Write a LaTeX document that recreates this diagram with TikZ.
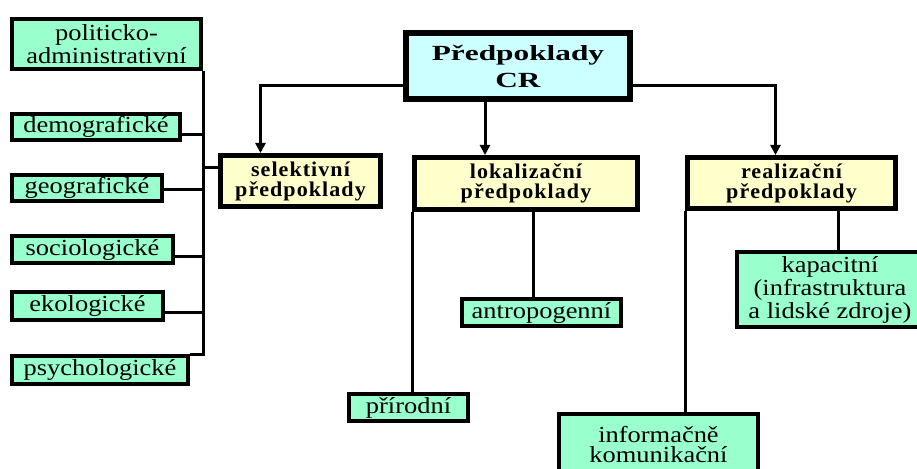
\documentclass[tikz,border=0pt]{standalone}
\usepackage{fontspec}
\setmainfont{Liberation Serif}
\newfontfamily\leaffont[FakeStretch=1.15]{Liberation Serif}
\newfontfamily\groupfont[FakeStretch=1.05,LetterSpace=5]{Liberation Serif}
\newfontfamily\rootfont[FakeStretch=1.45]{Liberation Serif}
\usetikzlibrary{arrows.meta}
\definecolor{leafgreen}{HTML}{99FFCC}
\definecolor{groupyellow}{HTML}{FFFFCC}
\definecolor{rootcyan}{HTML}{CCFFFF}
\tikzset{
    leaf/.style={draw, line width=2pt, fill=leafgreen, inner sep=0pt, align=center,
        font=\leaffont\fontsize{11.5}{11.5}\selectfont},
    group/.style={draw, line width=2.5pt, fill=groupyellow, inner sep=0pt, align=center,
        font=\groupfont\bfseries\fontsize{10.5}{10}\selectfont},
    root/.style={draw, line width=3pt, fill=rootcyan, inner sep=0pt, align=center,
        font=\rootfont\bfseries\fontsize{10.8}{13.5}\selectfont},
    conn/.style={line width=1.5pt},
    connarr/.style={conn, -{Triangle[length=5pt,width=5pt]}}
}
\begin{document}
\begin{tikzpicture}[x=0.5pt, y=-0.5pt]
        \useasboundingbox (0,0) rectangle (917,469);
        \clip (0,0) rectangle (917,469);
        \node[leaf, minimum width=94.5pt, minimum height=25pt] (pol) at (106.5,44) {politicko-\\administrativní};
        \node[leaf, minimum width=84pt, minimum height=13pt] (dem) at (96,127) {demografické};
        \node[leaf, minimum width=75pt, minimum height=13pt] (geo) at (87,188) {geografické};
        \node[leaf, minimum width=80.5pt, minimum height=13.5pt] (soc) at (92.5,249.5) {sociologické};
        \node[leaf, minimum width=75.5pt, minimum height=14pt] (eko) at (87.5,306) {ekologické};
        \node[leaf, minimum width=88pt, minimum height=14pt] (psy) at (100,370) {psychologické};
        \node[root, minimum width=112pt, minimum height=33pt] (cr) at (518,66) {Předpoklady\\CR};
        \node[group, minimum width=80pt, minimum height=25.5pt] (sel) at (300.5,181) {selektivní\\předpoklady};
        \node[group, minimum width=111.5pt, minimum height=26pt] (lok) at (526,183.5) {lokalizační\\předpoklady};
        \node[group, minimum width=104pt, minimum height=25.5pt] (rea) at (791.5,183) {realizační\\předpoklady};
        \node[leaf, minimum width=79.5pt, minimum height=13.5pt] (ant) at (541.5,312.5) {antropogenní};
        \node[leaf, minimum width=59.5pt, minimum height=13.5pt] (pri) at (408.5,407.5) {přírodní};
        \node[leaf, minimum width=93pt, minimum height=37.5pt] (kap) at (830,289.5) {kapacitní\\(infrastruktura\\a lidské zdroje)};
        \node[leaf, font=\leaffont\fontsize{11.5}{10}\selectfont, minimum width=99.5pt, minimum height=31pt] (info) at (658.5,445) {informačně\\komunikační};
        \draw[conn] (pol.south east) |- ([yshift=-0.5pt]psy.north east);
        \draw[conn] ([yshift=-4pt]dem.east) -- ([yshift=-4pt]dem.east -| pol.east);
        \draw[conn] ([yshift=-1pt]geo.east) -- ([yshift=-1pt]geo.east -| pol.east);
        \draw[conn] ([yshift=-3.75pt]soc.east) -- ([yshift=-3.75pt]soc.east -| pol.east);
        \draw[conn] ([yshift=-3.5pt]eko.east) -- ([yshift=-3.5pt]eko.east -| pol.east);
        \draw[conn] ([yshift=6.5pt]sel.west) -- ([yshift=6.5pt]sel.west -| pol.east);
        \draw[connarr] ([yshift=-10pt]cr.west) -| ([xshift=-20pt]sel.north);
        \draw[connarr] ([xshift=-16.5pt]cr.south) -- ([xshift=-16.5pt]cr.south |- lok.north);
        \draw[connarr] ([yshift=-10pt]cr.east) -| ([xshift=-8pt]rea.north);
        \draw[conn] (lok.south west) -- (lok.south west |- pri.north);
        \draw[conn] ([xshift=3.5pt]lok.south) -- ([xshift=3.5pt]lok.south |- ant.north);
        \draw[conn] (rea.south west) -- (rea.south west |- info.north);
        \draw[conn] ([xshift=23.25pt]rea.south) -- ([xshift=23.25pt]rea.south |- kap.north);
    \end{tikzpicture}
\end{document}
